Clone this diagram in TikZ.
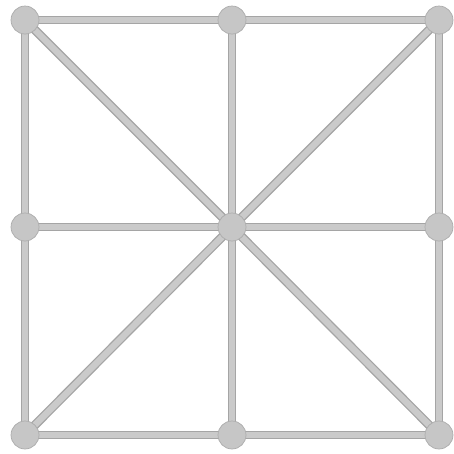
\documentclass[tikz,border=0pt]{standalone}
\usetikzlibrary{backgrounds}
\definecolor{barfill}{RGB}{202,202,202}
\definecolor{baredge}{RGB}{165,165,165}
\definecolor{dotfill}{RGB}{198,198,198}
\begin{document}
\begin{tikzpicture}[
		x=0.02cm, y=-0.02cm,
		dot/.style={circle, draw=barfill!85!black, fill=dotfill, line width=0.4pt, inner sep=0pt, minimum size=0.56cm},
		bar/.style={draw=baredge, line width=0.75pt, double=barfill, double distance=3.6pt}
		]
		\useasboundingbox (0, 0) rectangle (454, 454);
		\node at (25, 20) [name=top left, dot] {};
		\node at (232, 20) [name=top mid, dot] {};
		\node at (439, 20) [name=top right, dot] {};
		\node at (25, 227) [name=mid left, dot] {};
		\node at (232, 227) [name=centre, dot] {};
		\node at (439, 227) [name=mid right, dot] {};
		\node at (25, 435) [name=bottom left, dot] {};
		\node at (232, 435) [name=bottom mid, dot] {};
		\node at (439, 435) [name=bottom right, dot] {};
		\begin{scope}[on background layer]
			% outer square
			\draw[bar] (top left.center) -- (top mid.center) -- (top right.center);
			\draw[bar] (bottom left.center) -- (bottom mid.center) -- (bottom right.center);
			\draw[bar] (top left.center) -- (mid left.center) -- (bottom left.center);
			\draw[bar] (top right.center) -- (mid right.center) -- (bottom right.center);
			% cross
			\draw[bar] (mid left.center) -- (centre.center) -- (mid right.center);
			\draw[bar] (top mid.center) -- (centre.center) -- (bottom mid.center);
			% diagonals
			\draw[bar] (top left.center) -- (centre.center) -- (bottom right.center);
			\draw[bar] (top right.center) -- (centre.center) -- (bottom left.center);
		\end{scope}
	\end{tikzpicture}
\end{document}
